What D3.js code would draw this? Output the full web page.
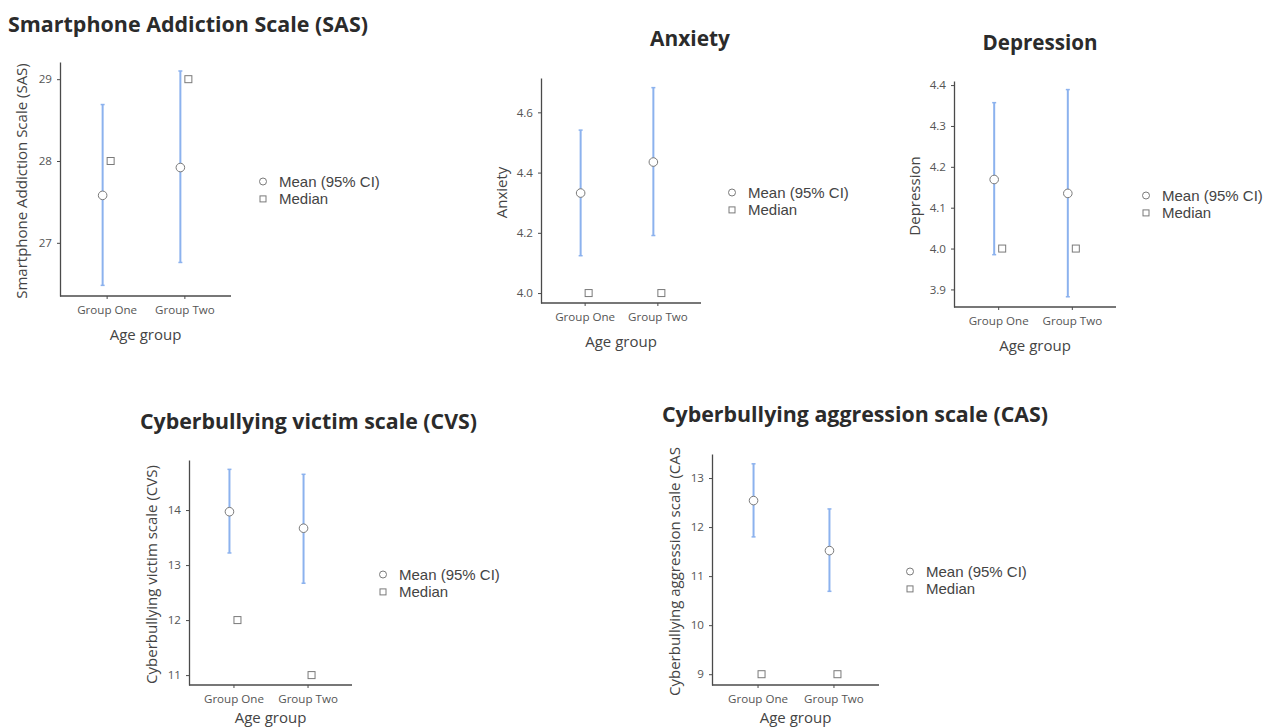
<!DOCTYPE html>
<html>
<head>
<meta charset="utf-8">
<script src="https://cdn.jsdelivr.net/npm/d3@7"></script>
<style>
  html, body { margin: 0; padding: 0; background: #fff; }
  svg { display: block; }
  .title { font-family: "Open Sans", sans-serif; font-weight: 700; fill: #2b2b2b; }
  .axis-title { font-family: "Open Sans", sans-serif; font-size: 15px; fill: #444; }
  .tick text { font-family: "Open Sans", sans-serif; font-size: 11.6px; fill: #555; }
  .legend text { font-family: "Liberation Sans", Arial, sans-serif; font-size: 15px; fill: #444; }
</style>
</head>
<body>
<svg id="chart" width="1263" height="728"></svg>
<script>
// ---- data ----
const groups = ["Group One", "Group Two"];
const xAxisLabel = "Age group";
const legendLabels = ["Mean (95% CI)", "Median"];

const sasMean   = [27.58, 27.92];
const sasLower  = [26.48, 26.76];
const sasUpper  = [28.69, 29.10];
const sasMedian = [28, 29];
const sasTicks  = [27, 28, 29];

const anxMean   = [4.332, 4.435];
const anxLower  = [4.124, 4.191];
const anxUpper  = [4.541, 4.682];
const anxMedian = [4.0, 4.0];
const anxTicks  = [4.0, 4.2, 4.4, 4.6];

const depMean   = [4.169, 4.135];
const depLower  = [3.985, 3.882];
const depUpper  = [4.357, 4.389];
const depMedian = [4.0, 4.0];
const depTicks  = [3.9, 4.0, 4.1, 4.2, 4.3, 4.4];

const cvsMean   = [13.97, 13.67];
const cvsLower  = [13.22, 12.67];
const cvsUpper  = [14.74, 14.65];
const cvsMedian = [12, 11];
const cvsTicks  = [11, 12, 13, 14];

const casMean   = [12.54, 11.52];
const casLower  = [11.80, 10.69];
const casUpper  = [13.29, 12.37];
const casMedian = [9, 9];
const casTicks  = [9, 10, 11, 12, 13];

// ---- layout per panel ----
const panels = [
  { title: "Smartphone Addiction Scale (SAS)", titleX: 8, titleY: 32, titleAnchor: "start", titleW: 360,
    yLabel: "Smartphone Addiction Scale (SAS)",
    mean: sasMean, lo: sasLower, hi: sasUpper, med: sasMedian, ticks: sasTicks, fmt: d3.format("d"),
    x0: 60, x1: 231, yTop: 62, yBot: 296, domain: [26.35, 29.21],
    yLabelX: 22, legendX: 263, legendY: 182 },
  { title: "Anxiety", titleX: 690, titleY: 46, titleAnchor: "middle", titleW: 80,
    yLabel: "Anxiety",
    mean: anxMean, lo: anxLower, hi: anxUpper, med: anxMedian, ticks: anxTicks, fmt: d3.format(".1f"),
    x0: 541, x1: 701, yTop: 78, yBot: 303, domain: [3.967, 4.714],
    yLabelX: 502, legendX: 732, legendY: 193 },
  { title: "Depression", titleX: 1040, titleY: 50, titleAnchor: "middle", titleW: 115,
    yLabel: "Depression",
    mean: depMean, lo: depLower, hi: depUpper, med: depMedian, ticks: depTicks, fmt: d3.format(".1f"),
    x0: 954, x1: 1116, yTop: 81, yBot: 307, domain: [3.857, 4.41],
    yLabelX: 915, legendX: 1146, legendY: 196 },
  { title: "Cyberbullying victim scale (CVS)", titleX: 140, titleY: 429, titleAnchor: "start", titleW: 337,
    yLabel: "Cyberbullying victim scale (CVS)",
    mean: cvsMean, lo: cvsLower, hi: cvsUpper, med: cvsMedian, ticks: cvsTicks, fmt: d3.format("d"),
    x0: 189, x1: 352, yTop: 460, yBot: 685, domain: [10.82, 14.91],
    yLabelX: 152, legendX: 383, legendY: 575 },
  { title: "Cyberbullying aggression scale (CAS)", titleX: 662, titleY: 422, titleAnchor: "start", titleW: 386,
    yLabel: "Cyberbullying aggression scale (CAS",
    mean: casMean, lo: casLower, hi: casUpper, med: casMedian, ticks: casTicks, fmt: d3.format("d"),
    x0: 712, x1: 879, yTop: 454, yBot: 685, domain: [8.78, 13.49],
    yLabelX: 675, legendX: 910, legendY: 572 }
];

const svg = d3.select("#chart");
const barColor = "#8cb2ee";
const markStroke = "#7a7a7a";
const axisColor = "#4a4a4a";
const legendGap = 17.4;

panels.forEach(p => {
  const g = svg.append("g");

  // title
  g.append("text").attr("class", "title")
    .attr("x", p.titleX).attr("y", p.titleY)
    .attr("text-anchor", p.titleAnchor)
    .style("font-size", "21.5px")
    .attr("textLength", p.titleW).attr("lengthAdjust", "spacingAndGlyphs")
    .text(p.title);

  const x = d3.scalePoint().domain(groups).range([p.x0, p.x1]).padding(0.6);
  const y = d3.scaleLinear().domain(p.domain).range([p.yBot, p.yTop]);

  // y axis
  const ya = g.append("g").attr("transform", `translate(${p.x0},0)`)
    .call(d3.axisLeft(y).tickValues(p.ticks).tickFormat(p.fmt).tickSize(3).tickSizeOuter(0));
  ya.select(".domain").attr("stroke", axisColor).attr("stroke-width", 1.3);
  ya.selectAll(".tick line").attr("stroke", axisColor);
  ya.selectAll(".tick text").attr("x", -8);

  // x axis
  const xa = g.append("g").attr("transform", `translate(0,${p.yBot})`)
    .call(d3.axisBottom(x).tickSize(3).tickSizeOuter(0));
  xa.select(".domain").attr("stroke", axisColor).attr("stroke-width", 1.3)
    .attr("d", `M${p.x0},0H${p.x1}`);
  xa.selectAll(".tick line").attr("stroke", axisColor);
  xa.selectAll(".tick text").attr("y", 10);

  // axis titles
  g.append("text").attr("class", "axis-title")
    .attr("x", (p.x0 + p.x1) / 2).attr("y", Math.min(p.yBot + 44, 723))
    .attr("text-anchor", "middle").text(xAxisLabel);
  g.append("text").attr("class", "axis-title")
    .attr("transform", `translate(${p.yLabelX},${(p.yTop + p.yBot) / 2 + 2}) rotate(-90)`)
    .attr("text-anchor", "middle").attr("dy", "0.35em").text(p.yLabel);

  const data = groups.map((grp, i) => ({ grp, mean: p.mean[i], lo: p.lo[i], hi: p.hi[i], med: p.med[i] }));

  // error bars
  g.selectAll(".eb").data(data).join("line")
    .attr("x1", d => x(d.grp) - 4).attr("x2", d => x(d.grp) - 4)
    .attr("y1", d => y(d.lo)).attr("y2", d => y(d.hi))
    .attr("stroke", barColor).attr("stroke-width", 2);
  ["lo", "hi"].forEach(k => {
    g.selectAll(".cap" + k).data(data).join("line")
      .attr("x1", d => x(d.grp) - 6).attr("x2", d => x(d.grp) - 2)
      .attr("y1", d => y(d[k])).attr("y2", d => y(d[k]))
      .attr("stroke", barColor).attr("stroke-width", 1.5);
  });

  // medians
  g.selectAll(".med").data(data).join("rect")
    .attr("x", d => x(d.grp) + 4 - 3.5).attr("y", d => y(d.med) - 3.5)
    .attr("width", 7).attr("height", 7)
    .attr("fill", "#fff").attr("stroke", markStroke).attr("stroke-width", 1);

  // means
  g.selectAll(".mean").data(data).join("circle")
    .attr("cx", d => x(d.grp) - 4).attr("cy", d => y(d.mean)).attr("r", 4.3)
    .attr("fill", "#fff").attr("stroke", markStroke).attr("stroke-width", 1);

  // legend
  const lg = g.append("g").attr("class", "legend").attr("transform", `translate(${p.legendX},${p.legendY - 0.5})`);
  lg.append("circle").attr("cx", 0).attr("cy", 0).attr("r", 3.5)
    .attr("fill", "#fff").attr("stroke", markStroke);
  lg.append("text").attr("x", 16).attr("y", 0).attr("dy", "0.35em").text(legendLabels[0]);
  lg.append("rect").attr("x", -3).attr("y", legendGap - 3).attr("width", 6).attr("height", 6)
    .attr("fill", "#fff").attr("stroke", markStroke);
  lg.append("text").attr("x", 16).attr("y", legendGap).attr("dy", "0.35em").text(legendLabels[1]);
});
</script>
</body>
</html>
